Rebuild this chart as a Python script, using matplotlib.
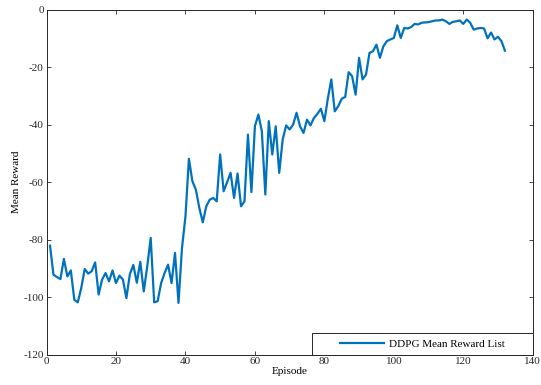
import matplotlib
matplotlib.use("Agg")
import matplotlib.pyplot as plt
from matplotlib.patches import Rectangle

episodes = list(range(1, 133))
mean_reward = [
    -82.1, -92.2, -93.0, -93.7, -86.7, -92.8, -90.7, -100.9, -101.8, -96.8,
    -90.2, -91.8, -91.0, -87.9, -99.1, -93.9, -91.6, -94.5, -90.7, -95.1,
    -92.5, -93.9, -100.3, -92.0, -88.8, -95.0, -87.7, -98.0, -89.3, -79.4,
    -101.8, -101.4, -95.1, -91.6, -88.7, -95.1, -84.6, -102.0, -83.0, -72.0,
    -51.9, -59.7, -62.6, -69.0, -74.0, -68.4, -66.1, -65.5, -66.7, -50.4,
    -63.2, -60.0, -56.8, -65.5, -57.0, -68.4, -66.7, -43.5, -63.5, -40.6,
    -36.5, -42.3, -64.3, -38.8, -50.4, -40.6, -56.8, -45.2, -40.3, -41.7,
    -40.0, -35.9, -40.6, -42.9, -38.3, -40.3, -37.7, -36.3, -34.5, -38.8,
    -31.0, -24.3, -35.4, -33.6, -31.0, -30.4, -21.8, -23.2, -29.6, -16.8,
    -24.3, -22.6, -15.1, -14.5, -12.2, -16.8, -12.8, -11.0, -10.4, -9.9,
    -5.5, -9.9, -6.4, -6.6, -6.1, -5.0, -5.2, -4.6, -4.5, -4.4,
    -4.1, -3.8, -3.8, -3.5, -4.1, -5.0, -4.3, -4.1, -3.8, -5.0,
    -3.5, -4.6, -7.0, -6.6, -6.4, -6.6, -10.0, -8.0, -10.4, -9.5,
    -11.0, -14.3,
]
x_ticks = [0, 20, 40, 60, 80, 100, 120, 140]
y_ticks = [-120, -100, -80, -60, -40, -20, 0]
series_label = "DDPG Mean Reward List"

plt.rcParams["font.family"] = ["Liberation Serif", "DejaVu Serif"]
plt.rcParams["font.size"] = 8

fig = plt.figure(figsize=(5.41, 3.85), dpi=100)
ax = fig.add_axes([0.086, 0.0787, 0.8987, 0.8966])

line_color = "#0072BD"
edge = "#262626"

ax.plot(episodes, mean_reward, color=line_color, linewidth=1.6, label=series_label)

ax.set_xlim(0, 140)
ax.set_ylim(-120, 0)
ax.set_xticks(x_ticks)
ax.set_yticks(y_ticks)
ax.set_xticklabels([str(t) for t in x_ticks])
ax.set_yticklabels([str(t) for t in y_ticks])

for s in ax.spines.values():
    s.set_color(edge)
    s.set_linewidth(0.7)
ax.tick_params(direction="in", length=3, width=0.6, colors=edge,
               top=True, right=True, labelsize=8, pad=2)
ax.tick_params(axis="x", pad=1.5)

ax.set_xlabel("Episode", fontsize=8, labelpad=1)
ax.set_ylabel("Mean Reward", fontsize=8, labelpad=2)

# Legend: framed box flush with the lower-right corner of the axes
box_x0, box_w, box_h = 0.545, 0.455, 0.062
ax.add_patch(Rectangle((box_x0, 0.0), box_w, box_h, transform=ax.transAxes,
                       facecolor="white", edgecolor=edge, linewidth=0.7,
                       zorder=4, clip_on=False))
leg = ax.legend(loc="center", bbox_to_anchor=(box_x0 + box_w / 2, box_h / 2),
                frameon=False, handlelength=4.0, handletextpad=0.45,
                borderpad=0, borderaxespad=0, fontsize=8)
leg.set_zorder(5)

fig.savefig("out.png", dpi=100)
